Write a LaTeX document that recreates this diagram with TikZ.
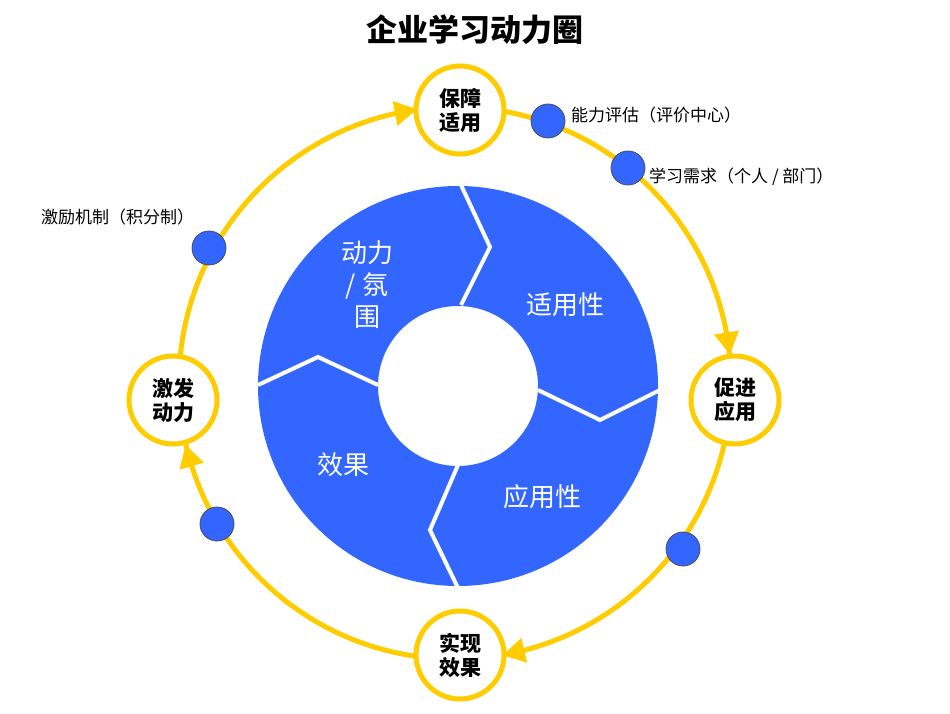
\documentclass[tikz,border=0pt]{standalone}
\usepackage{fontspec}
\setmainfont{Noto Sans CJK SC}
\usetikzlibrary{shapes.geometric,calc}
\definecolor{ringblue}{HTML}{3366FF}
\definecolor{gold}{HTML}{FFCC00}
\tikzset{
  stage/.style={circle,draw=gold,line width=5pt,fill=white,minimum size=88pt,inner sep=0pt,align=center,font=\fontsize{21}{24}\selectfont\bfseries},
  dot/.style={circle,draw=black!70,line width=0.8pt,fill=ringblue,minimum size=34pt,inner sep=0pt},
  dotlabel/.style={font=\fontsize{17}{20}\selectfont,inner sep=1pt},
  ringlabel/.style={text=white,align=center,font=\fontsize{26}{32}\selectfont},
  tip/.style={isosceles triangle,isosceles triangle apex angle=60,fill=gold,minimum height=22pt,minimum width=24pt,inner sep=0pt},
  divider/.style={white,line width=4pt}
}
\begin{document}
\begin{tikzpicture}[x=1pt,y=1pt]
\useasboundingbox (0,0) rectangle (950,713);
\node (title) at (475,683) {\fontsize{31}{36}\selectfont\bfseries 企业学习动力圈};
% outer cycle
\coordinate (c) at (455,330);
\draw[gold,line width=5pt] (c) circle (276);
\foreach \a in {101,9,-77,196}
  \node[tip,rotate=\a-90] at ($(c)+(\a:276)$) {};
% ring
\fill[ringblue,even odd rule] (458,327) circle (200) (458,327) circle (80);
\draw[divider] (461,528)--(490,466)--(461,408);
\draw[divider] (538,323)--(600,293)--(660,323);
\draw[divider] (458,248)--(430,183)--(458,125);
\draw[divider] (258,328)--(318,356)--(378,328);
\node[ringlabel] (dl) at (367,428) {动力\\/ 氛\\围};
\node[ringlabel] (sy) at (565,408) {适用性};
\node[ringlabel] (yy) at (542,216) {应用性};
\node[ringlabel] (xg) at (343,248) {效果};
% stages
\node[stage] (top) at (460,603) {保障\\适用};
\node[stage] (right) at (735,313) {促进\\应用};
\node[stage] (bottom) at (460,58) {实现\\效果};
\node[stage] (left) at (173,313) {激发\\动力};
% dots
\node[dot] (d1) at (548,592) {};
\node[dot] (d2) at (628,545) {};
\node[dot] (d3) at (209,465) {};
\node[dot] (d4) at (217,189) {};
\node[dot] (d5) at (683,164) {};
\node[dotlabel,anchor=west] (l1) at (570,598) {能力评估（评价中心）};
\node[dotlabel,anchor=west] (l2) at (648,536) {学习需求（个人 / 部门）};
\node[dotlabel,anchor=west] (l3) at (40,496) {激励机制（积分制）};
\end{tikzpicture}
\end{document}
